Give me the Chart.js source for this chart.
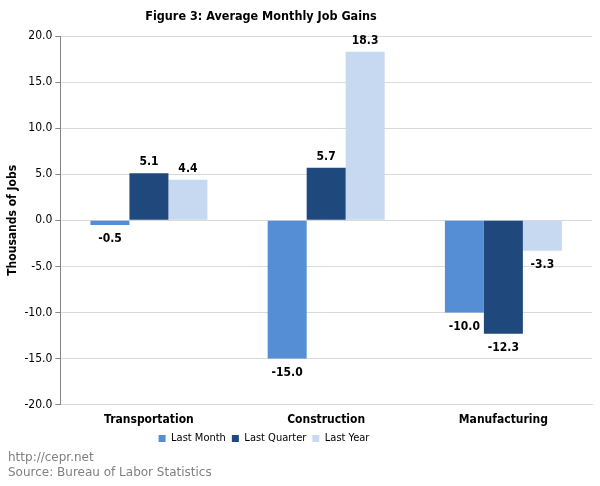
<!DOCTYPE html>
<html><head><meta charset="utf-8">
<script src="https://cdn.jsdelivr.net/npm/chart.js@4"></script>
<style>
html,body{margin:0;padding:0;background:#fff;}
#wrap{position:relative;width:600px;height:486px;}
#foot{position:absolute;left:8px;top:450px;font-family:Tahoma,"DejaVu Sans",sans-serif;font-size:12px;color:#808080;line-height:15px;}
</style></head>
<body><div id="wrap"><canvas id="c" width="600" height="486"></canvas>
<div id="foot">http://cepr.net<br>Source: Bureau of Labor Statistics</div></div>
<script>
const categories = ["Transportation", "Construction", "Manufacturing"];
const lastMonth = [-0.5, -15.0, -10.0];
const lastQuarter = [5.1, 5.7, -12.3];
const lastYear = [4.4, 18.3, -3.3];
const seriesNames = ["Last Month", "Last Quarter", "Last Year"];
const yTicks = [-20, -15, -10, -5, 0, 5, 10, 15, 20];

const FONT = "'DejaVu Sans Condensed', 'DejaVu Sans', sans-serif";
const labelPlugin = {
  id: 'valLabels',
  afterLayout(chart) {
    const L = chart.legend;
    if (L) { L.left -= 35; L.right -= 35; if (L.adjustHitBoxes) L.adjustHitBoxes(); }
    const T = chart.titleBlock;
    if (T) { T.left -= 38; T.right -= 38; }
  },
  afterDatasetsDraw(chart) {
    const ctx = chart.ctx;
    ctx.save();
    ctx.font = "bold 12px " + FONT;
    ctx.fillStyle = "#000";
    ctx.textAlign = "center";
    ctx.textBaseline = "middle";
    chart.data.datasets.forEach((ds, i) => {
      chart.getDatasetMeta(i).data.forEach((bar, j) => {
        const v = ds.data[j];
        const y = v >= 0 ? bar.y - 11 : bar.y + 14;
        ctx.fillText(v.toFixed(1), bar.x, y);
      });
    });
    ctx.restore();
  }
};

new Chart(document.getElementById('c'), {
  type: 'bar',
  data: {
    labels: categories,
    datasets: [
      {label: seriesNames[0], data: lastMonth, backgroundColor: '#558ED5'},
      {label: seriesNames[1], data: lastQuarter, backgroundColor: '#1F497D'},
      {label: seriesNames[2], data: lastYear, backgroundColor: '#C6D9F1'}
    ]
  },
  options: {
    responsive: false,
    animation: false,
    layout: {padding: {left: 6, right: 8, top: 0, bottom: 32}},
    datasets: {bar: {categoryPercentage: 0.66, barPercentage: 1.0}},
    plugins: {
      title: {display: true, text: 'Figure 3: Average Monthly Job Gains', color: '#000',
        font: {family: FONT, size: 12.5, weight: 'bold'}, padding: {top: 9, bottom: 12}},
      legend: {position: 'bottom', labels: {boxWidth: 7, boxHeight: 7, padding: 6, color: '#000',
        font: {family: FONT, size: 11}}},
      tooltip: {enabled: false}
    },
    scales: {
      x: {
        grid: {display: false},
        border: {color: '#d9d9d9'},
        ticks: {color: '#000', font: {family: FONT, size: 12, weight: 'bold'}, padding: 0}
      },
      y: {
        min: -20, max: 20,
        afterBuildTicks(axis) { axis.ticks = yTicks.map(v => ({value: v})); },
        grid: {color: '#d9d9d9', tickLength: 5, tickColor: '#868686'},
        border: {color: '#868686'},
        ticks: {color: '#000', font: {family: FONT, size: 12}, padding: 3,
          callback: v => Number(v).toFixed(1)},
        title: {display: true, text: 'Thousands of Jobs', color: '#000',
          font: {family: FONT, size: 12, weight: 'bold'}, padding: {top: 0, bottom: 1}}
      }
    }
  },
  plugins: [labelPlugin]
});
</script></body></html>
